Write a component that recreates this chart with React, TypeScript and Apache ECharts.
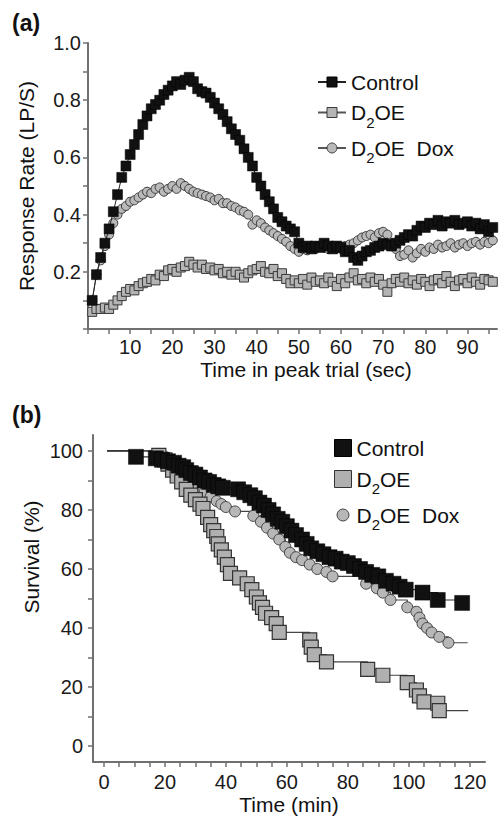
import React, { useEffect, useRef } from 'react';
import * as echarts from 'echarts';

const FONT = '"Liberation Sans", Arial, Helvetica, sans-serif';

// ---------- Panel (a): response rate during peak trial ----------
const peakTime = [
  1, 2, 3, 4, 5, 6, 7, 8, 9, 10, 11, 12, 13, 14, 15, 16, 17, 18, 19, 20,
  21, 22, 23, 24, 25, 26, 27, 28, 29, 30, 31, 32, 33, 34, 35, 36, 37, 38, 39, 40,
  41, 42, 43, 44, 45, 46, 47, 48, 49, 50, 51, 52, 53, 54, 55, 56, 57, 58, 59, 60,
  61, 62, 63, 64, 65, 66, 67, 68, 69, 70, 71, 72, 73, 74, 75, 76, 77, 78, 79, 80,
  81, 82, 83, 84, 85, 86, 87, 88, 89, 90, 91, 92, 93, 94, 95, 96,
];
const peakControl = [
  0.10, 0.19, 0.25, 0.30, 0.35, 0.41, 0.47, 0.53, 0.57, 0.61,
  0.645, 0.68, 0.715, 0.745, 0.77, 0.785, 0.80, 0.82, 0.835, 0.85,
  0.865, 0.855, 0.87, 0.88, 0.865, 0.84, 0.83, 0.825, 0.81, 0.79,
  0.77, 0.75, 0.725, 0.70, 0.68, 0.66, 0.63, 0.60, 0.57, 0.53,
  0.50, 0.47, 0.445, 0.42, 0.39, 0.375, 0.36, 0.35, 0.34, 0.30,
  0.285, 0.29, 0.28, 0.29, 0.285, 0.30, 0.29, 0.28, 0.29, 0.285,
  0.27, 0.275, 0.25, 0.24, 0.255, 0.27, 0.275, 0.285, 0.29, 0.30,
  0.295, 0.29, 0.30, 0.31, 0.32, 0.33, 0.325, 0.345, 0.36, 0.355,
  0.37, 0.365, 0.38, 0.36, 0.375, 0.37, 0.38, 0.365, 0.37, 0.375,
  0.36, 0.37, 0.35, 0.365, 0.34, 0.355,
];
const peakD2OE = [
  0.06, 0.07, 0.07, 0.075, 0.07, 0.085, 0.10, 0.115, 0.13, 0.14,
  0.135, 0.15, 0.16, 0.165, 0.175, 0.17, 0.19, 0.185, 0.205, 0.21,
  0.20, 0.215, 0.22, 0.235, 0.225, 0.215, 0.225, 0.21, 0.215, 0.205,
  0.21, 0.195, 0.20, 0.19, 0.20, 0.19, 0.18, 0.195, 0.205, 0.21,
  0.22, 0.20, 0.195, 0.21, 0.185, 0.195, 0.175, 0.16, 0.17, 0.16,
  0.175, 0.155, 0.18, 0.165, 0.17, 0.16, 0.18, 0.165, 0.15, 0.175,
  0.16, 0.18, 0.195, 0.17, 0.175, 0.16, 0.18, 0.165, 0.175, 0.155,
  0.13, 0.16, 0.175, 0.165, 0.18, 0.16, 0.17, 0.155, 0.175, 0.165,
  0.15, 0.17, 0.175, 0.16, 0.185, 0.165, 0.15, 0.17, 0.175, 0.16,
  0.18, 0.165, 0.155, 0.175, 0.17, 0.165,
];
const peakD2OEDox = [
  0.10, 0.19, 0.24, 0.29, 0.33, 0.37, 0.40, 0.42, 0.43, 0.445,
  0.45, 0.46, 0.47, 0.48, 0.475, 0.49, 0.495, 0.48, 0.49, 0.50,
  0.49, 0.51, 0.50, 0.49, 0.48, 0.475, 0.47, 0.465, 0.46, 0.45,
  0.455, 0.44, 0.44, 0.43, 0.425, 0.415, 0.41, 0.40, 0.365, 0.38,
  0.37, 0.355, 0.345, 0.335, 0.325, 0.315, 0.305, 0.29, 0.28, 0.27,
  0.28, 0.275, 0.285, 0.28, 0.29, 0.285, 0.28, 0.29, 0.285, 0.28,
  0.29, 0.295, 0.30, 0.31, 0.32, 0.325, 0.33, 0.32, 0.335, 0.34,
  0.33, 0.30, 0.28, 0.255, 0.26, 0.275, 0.25, 0.265, 0.28, 0.27,
  0.285, 0.28, 0.295, 0.285, 0.29, 0.30, 0.285, 0.295, 0.30, 0.29,
  0.30, 0.305, 0.295, 0.305, 0.30, 0.31,
];
const peakXTicks = [0, 5, 10, 15, 20, 25, 30, 35, 40, 45, 50, 55, 60, 65, 70, 75, 80, 85, 90, 95];
const peakXLabels = [10, 20, 30, 40, 50, 60, 70, 80, 90];
const peakYTicks = [0, 0.1, 0.2, 0.3, 0.4, 0.5, 0.6, 0.7, 0.8, 0.9, 1.0];
const peakYLabels = [0.2, 0.4, 0.6, 0.8, 1.0];

// ---------- Panel (b): survival ----------
const survStart = [1, 100];
const survControlTime = [
  10.5, 17, 19, 21, 23, 24.5, 26, 27, 28.5, 30, 31.5, 33, 34.5, 36, 37.5, 39, 44, 46, 48, 49.5,
  51, 52.5, 54, 55.5, 57, 58.5, 60, 61.5, 63, 65, 66.5, 68, 70, 72, 74, 76, 78, 80, 82, 84,
  86, 88, 90, 92.5, 95, 97, 99, 104.5, 109.5, 117.5,
];
const survControlPct = [
  98, 97.5, 97, 96.5, 96, 95, 94.5, 93.5, 92.5, 92, 91, 90, 89.5, 88.5, 88, 87.5, 87, 86, 85, 84,
  82.5, 81.5, 80, 78.5, 77, 76, 74.5, 73, 71.5, 70, 68.5, 67, 66, 65, 64, 63.5, 62.5, 62, 61, 60,
  59, 58, 57.5, 56, 55, 54, 53, 52, 49.5, 48.5,
];
const survD2OETime = [
  18, 20, 21, 22.5, 24, 25.5, 27, 28.5, 30, 31.5, 32.5, 34, 35, 36, 37, 37.5, 38.5, 39.5, 40.5, 41.5,
  44.5, 47, 48.5, 50, 51, 52, 53, 55, 56.5, 57.5, 67.5, 68, 69, 73, 86.5, 91.5, 99.5, 102.5, 103.5, 105,
  109.5, 110,
];
const survD2OEPct = [
  98.5, 97, 95.5, 93.5, 91.5, 89.5, 87, 85, 83.5, 82, 80.5, 77.5, 75, 73, 71, 68.5, 66.5, 64, 61.5, 58.5,
  57, 55, 53, 50.5, 48.5, 47, 45, 43.5, 41.5, 38.5, 36, 33.5, 31, 28.5, 26, 24, 21.5, 19, 17, 15,
  14.5, 12,
];
const survD2OEEnd = [119.5, 12];
const survDoxTime = [
  18, 20, 21.5, 23, 24.5, 26, 27.5, 29, 31, 33, 35, 37, 38.5, 40, 43, 49, 51.5, 53.5, 55.5, 57.5,
  59.5, 61, 63, 65, 67.5, 70, 73, 75, 86, 89.5, 91.5, 94, 99.5, 102.5, 103.5, 104.5, 106, 107.5, 110, 113,
];
const survDoxPct = [
  99, 98, 96.5, 95, 93.5, 92, 90.5, 89, 87.5, 86, 84.5, 83, 82, 81, 79.5, 78, 76, 74, 72, 70,
  67.5, 65.5, 64, 63, 61.5, 60, 59, 57.5, 55, 53.5, 52, 49.5, 47, 45.5, 43.5, 41.5, 40, 38.5, 37, 35,
];
const survDoxEnd = [119.3, 35];
const survXTicks = [0, 5, 10, 15, 20, 25, 30, 35, 40, 45, 50, 55, 60, 65, 70, 75, 80, 85, 90, 95, 100, 105, 110, 115, 120];
const survXLabels = [0, 20, 40, 60, 80, 100, 120];
const survYTicks = [0, 10, 20, 30, 40, 50, 60, 70, 80, 90, 100];
const survYLabels = [0, 20, 40, 60, 80, 100];

const NAME_CONTROL = 'Control';
const NAME_D2OE = 'D2OE';
const NAME_DOX = 'D2OE Dox';

const AXIS_COLOR = '#707070';

function valueAxis(min: number, max: number, ticks: number[], labels: number[], fmt: (v: number) => string, margin: number) {
  return {
    type: 'value',
    min,
    max,
    axisLine: { show: true, onZero: false, lineStyle: { color: AXIS_COLOR, width: 2 } },
    axisTick: { show: true, length: 5, inside: false, customValues: ticks, lineStyle: { color: AXIS_COLOR, width: 1.5 } },
    axisLabel: { show: true, customValues: labels, formatter: fmt, margin, color: '#1a1a1a', fontSize: 20, fontWeight: 400, fontFamily: FONT },
    splitLine: { show: false },
  };
}

const legendFormatter = (name: string) =>
  name.startsWith('D2OE') ? '{n|D}{s|2}{n|' + name.slice(2).replace(' ', '  ') + '}' : name;

const legendText = {
  fontSize: 21,
  fontWeight: 400,
  fontFamily: FONT,
  color: '#111',
  lineHeight: 24,
  rich: {
    n: { fontSize: 21, fontWeight: 400, fontFamily: FONT, color: '#111', lineHeight: 24, verticalAlign: 'middle' },
    s: { fontSize: 15, fontWeight: 400, fontFamily: FONT, color: '#111', lineHeight: 24, verticalAlign: 'middle', padding: [19, 0, 0, 0] },
  },
};

function text(x: number, y: number, t: string, size: number, extra: any = {}) {
  return {
    type: 'text',
    x,
    y,
    rotation: extra.rotation || 0,
    style: {
      text: t,
      fontSize: size,
      fontFamily: FONT,
      fontWeight: extra.bold ? 700 : 400,
      fill: '#111',
      align: extra.align || 'center',
      verticalAlign: 'middle',
    },
  };
}

function buildA(): any {
  const pts = (vals: number[]) => peakTime.map((t, i) => [t, vals[i]]);
  return {
    animation: false,
    backgroundColor: '#ffffff',
    grid: { left: 88, top: 43, width: 409, height: 286, outerBoundsMode: 'none' },
    xAxis: valueAxis(0, 97, peakXTicks, peakXLabels, (v) => String(v), 8),
    yAxis: valueAxis(0, 1, peakYTicks, peakYLabels, (v) => v.toFixed(1), 7),
    legend: {
      orient: 'vertical',
      left: 312,
      top: 65,
      itemWidth: 28,
      itemHeight: 12.5,
      itemGap: 1.5,
      selectedMode: false,
      data: [NAME_CONTROL, NAME_D2OE, NAME_DOX],
      formatter: legendFormatter,
      textStyle: legendText,
      itemStyle: { borderWidth: 1 },
    },
    graphic: [
      text(12, 23, '(a)', 23, { bold: true, align: 'left' }),
      text(26, 186, 'Response Rate (LP/S)', 21, { rotation: Math.PI / 2 }),
      text(306, 369, 'Time in peak trial (sec)', 21),
    ],
    series: [
      {
        name: NAME_D2OE, type: 'line', data: pts(peakD2OE), symbol: 'rect', symbolSize: 9, silent: true,
        itemStyle: { color: '#b4b4b4', borderColor: '#3a3a3a', borderWidth: 1 },
        lineStyle: { color: '#555', width: 1 }, z: 2,
      },
      {
        name: NAME_DOX, type: 'line', data: pts(peakD2OEDox), symbol: 'circle', symbolSize: 9, silent: true,
        itemStyle: { color: '#b9b9b9', borderColor: '#3c3c3c', borderWidth: 1 },
        lineStyle: { color: '#555', width: 1 }, z: 3,
      },
      {
        name: NAME_CONTROL, type: 'line', data: pts(peakControl), symbol: 'rect', symbolSize: 10, silent: true,
        itemStyle: { color: '#111', borderColor: '#000', borderWidth: 0.5 },
        lineStyle: { color: '#222', width: 1 }, z: 4,
      },
    ],
  };
}

function buildB(): any {
  const km = (ts: number[], vs: number[], end?: number[]) => {
    const d: any[] = [{ value: survStart, symbol: 'none' }];
    ts.forEach((t, i) => d.push([t, vs[i]]));
    if (end) d.push({ value: end, symbol: 'none' });
    return d;
  };
  return {
    animation: false,
    backgroundColor: '#ffffff',
    grid: { left: 93, top: 45, width: 392, height: 327, outerBoundsMode: 'none' },
    xAxis: valueAxis(-3.6, 125, survXTicks, survXLabels, (v) => String(v), 10),
    yAxis: valueAxis(-5.4, 105.4, survYTicks, survYLabels, (v) => String(v), 10),
    legend: {
      orient: 'vertical',
      left: 329,
      top: 41,
      itemWidth: 17,
      itemHeight: 17,
      itemGap: 2,
      selectedMode: false,
      data: [
        { name: NAME_CONTROL, icon: 'rect' },
        { name: NAME_D2OE, icon: 'rect' },
        { name: NAME_DOX, icon: 'path://M0 0M17 17M2.5 8.5A6 6 0 1 1 14.5 8.5A6 6 0 1 1 2.5 8.5Z' },
      ],
      formatter: legendFormatter,
      textStyle: legendText,
      itemStyle: { borderWidth: 1 },
    },
    graphic: [
      text(12, 25, '(b)', 23, { bold: true, align: 'left' }),
      text(31, 167, 'Survival (%)', 21, { rotation: Math.PI / 2 }),
      text(289, 414, 'Time (min)', 21),
    ],
    series: [
      {
        name: NAME_DOX, type: 'line', step: 'end', data: km(survDoxTime, survDoxPct, survDoxEnd),
        symbol: 'circle', symbolSize: 11, silent: true,
        itemStyle: { color: '#b7b7b7', borderColor: '#444', borderWidth: 1 },
        lineStyle: { color: '#444', width: 1.2 }, z: 2,
      },
      {
        name: NAME_D2OE, type: 'line', step: 'end', data: km(survD2OETime, survD2OEPct, survD2OEEnd),
        symbol: 'rect', symbolSize: 14, silent: true,
        itemStyle: { color: '#b0b0b0', borderColor: '#333', borderWidth: 1.2 },
        lineStyle: { color: '#444', width: 1.2 }, z: 3,
      },
      {
        name: NAME_CONTROL, type: 'line', step: 'end', data: km(survControlTime, survControlPct),
        symbol: 'rect', symbolSize: 15, silent: true,
        itemStyle: { color: '#111', borderColor: '#000', borderWidth: 0.5 },
        lineStyle: { color: '#333', width: 1.2 }, z: 4,
      },
    ],
  };
}

export default function App() {
  const refA = useRef<HTMLDivElement>(null);
  const refB = useRef<HTMLDivElement>(null);
  useEffect(() => {
    const a = echarts.init(refA.current as HTMLDivElement, undefined, { renderer: 'svg' });
    a.setOption(buildA());
    const b = echarts.init(refB.current as HTMLDivElement, undefined, { renderer: 'svg' });
    b.setOption(buildB());
    return () => {
      a.dispose();
      b.dispose();
    };
  }, []);
  return (
    <div style={{ position: 'absolute', left: 0, top: 0, width: 503, height: 818, background: '#fff' }}>
      <div ref={refA} style={{ position: 'absolute', left: 0, top: 0, width: 503, height: 390 }} />
      <div ref={refB} style={{ position: 'absolute', left: 0, top: 390, width: 503, height: 428 }} />
    </div>
  );
}
